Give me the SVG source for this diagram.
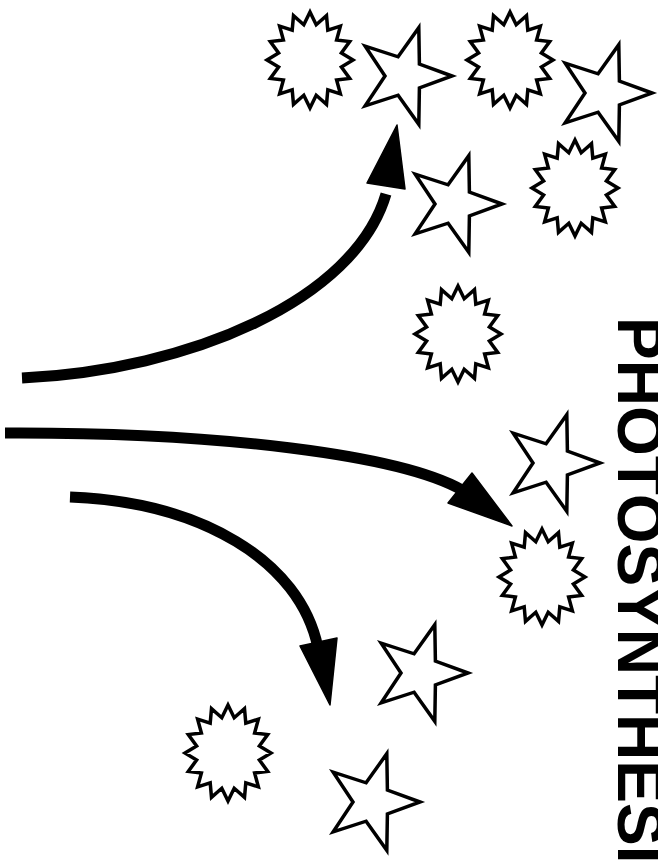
<svg xmlns="http://www.w3.org/2000/svg" xmlns:xlink="http://www.w3.org/1999/xlink" width="658" height="864" viewBox="0 0 658 864">
<style>
.shape{fill:#fff;stroke:#000;stroke-width:3.5;stroke-linejoin:miter}
.line{fill:none;stroke:#000;stroke-width:11;stroke-linecap:butt}
.head{fill:#000;stroke:#000;stroke-width:1.5;stroke-linejoin:round}
.title{font-family:"Liberation Sans",Arial,sans-serif;font-weight:bold;font-size:64px;fill:#000}
</style>
<defs>
<polygon id="star" class="shape" points="48,0 15.4,-11.9 14.8,-48.3 -5.9,-19.2 -38.8,-29.9 -19,0 -38.8,29.9 -5.9,19.2 14.8,48.3 15.4,11.9"/>
<polygon id="burst" class="shape" points="0,-48 6.2,-35.3 16.5,-44.3 17.8,-29.9 30.4,-33.9 26.6,-20 39.7,-18.4 31.4,-7 43,0 31.4,7 39.7,18.4 26.6,20 30.4,33.9 17.8,29.9 16.5,44.3 6.2,35.3 0,48 -6.2,35.3 -16.5,44.3 -17.8,29.9 -30.4,33.9 -26.6,20 -39.7,18.4 -31.4,7 -43,0 -31.4,-7 -39.7,-18.4 -26.6,-20 -30.4,-33.9 -17.8,-29.9 -16.5,-44.3 -6.2,-35.3"/>
</defs>
<rect width="658" height="864" fill="#fff"/>
<g id="connectors">
<path class="line" d="M22,378 C190,370 355,300 386,194"/>
<polygon class="head" points="397,125 405,189 367,183"/>
<path class="line" d="M5,433 C220,432 400,455 462,490"/>
<polygon class="head" points="512,526 448,503 472,473"/>
<path class="line" d="M70,497 C200,502 300,560 318,648"/>
<polygon class="head" points="330,705 300,646 337,638"/>
</g>
<g id="burst1"><use xlink:href="#burst" x="310" y="60"/></g>
<g id="star1"><use xlink:href="#star" x="404" y="76"/></g>
<g id="burst2"><use xlink:href="#burst" x="510" y="60"/></g>
<g id="star2"><use xlink:href="#star" x="604" y="93"/></g>
<g id="star3"><use xlink:href="#star" x="454" y="204"/></g>
<g id="burst3"><use xlink:href="#burst" x="575" y="188"/></g>
<g id="burst4"><use xlink:href="#burst" x="458" y="334"/></g>
<g id="star4"><use xlink:href="#star" x="552" y="463"/></g>
<g id="burst5"><use xlink:href="#burst" x="542" y="577"/></g>
<g id="star5"><use xlink:href="#star" x="420" y="673"/></g>
<g id="burst6"><use xlink:href="#burst" x="228" y="753"/></g>
<g id="star6"><use xlink:href="#star" x="372" y="802"/></g>
<g id="title">
<text class="title" transform="translate(618,317) rotate(90)" x="0" y="0">PHOTOSYNTHESIS</text>
</g>
</svg>
